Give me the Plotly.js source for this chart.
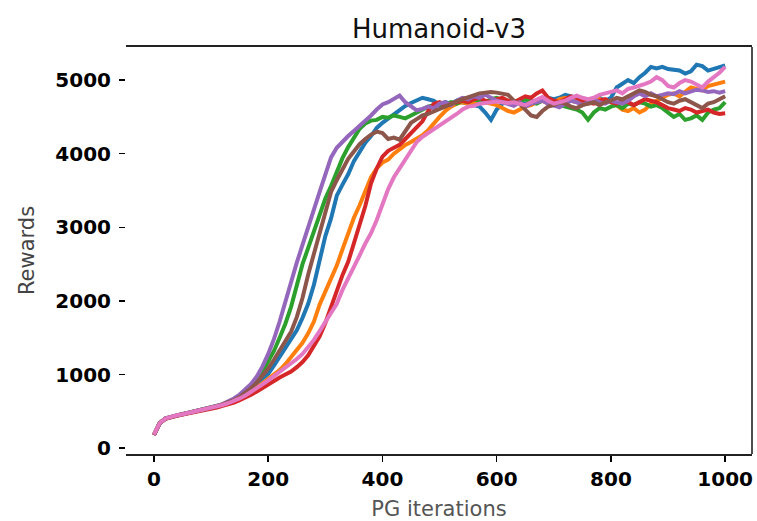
<!DOCTYPE html>
<html>
<head>
<meta charset="utf-8">
<script src="https://cdn.plot.ly/plotly-3.0.1.min.js"></script>
<style>html,body{margin:0;padding:0;background:#fff;}#chart{width:757px;height:521px;}</style>
</head>
<body>
<div id="chart"></div>
<script>
const iterations = [0,10,20,30,40,50,60,70,80,90,100,110,120,130,140,150,160,170,180,190,200,210,220,230,240,250,260,270,280,290,300,310,320,330,340,350,360,370,380,390,400,410,420,430,440,450,460,470,480,490,500,510,520,530,540,550,560,570,580,590,600,610,620,630,640,650,660,670,680,690,700,710,720,730,740,750,760,770,780,790,800,810,820,830,840,850,860,870,880,890,900,910,920,930,940,950,960,970,980,990,1000];

// blue
const run1 = [180,340,400,425,445,460,478,495,510,525,545,565,590,612,648,695,750,815,880,940,1010,1120,1240,1370,1490,1600,1770,1960,2220,2560,2880,3120,3430,3580,3720,3900,4030,4150,4240,4350,4420,4480,4540,4600,4650,4690,4730,4760,4740,4720,4660,4700,4680,4720,4700,4680,4660,4640,4560,4460,4600,4680,4700,4720,4700,4680,4720,4700,4740,4760,4740,4760,4800,4780,4760,4740,4720,4740,4760,4720,4760,4900,4950,5000,4960,5040,5100,5180,5160,5180,5150,5140,5130,5090,5120,5210,5190,5130,5150,5180,5200];

// orange
const run2 = [180,340,400,424,444,459,476,493,508,523,542,562,585,605,635,672,715,765,820,880,940,1000,1060,1140,1230,1320,1430,1560,1720,1950,2120,2300,2480,2700,2920,3130,3300,3500,3680,3800,3880,3920,4000,4060,4120,4160,4200,4250,4320,4420,4500,4580,4640,4680,4700,4680,4700,4720,4700,4680,4660,4620,4580,4560,4600,4640,4660,4700,4720,4680,4700,4740,4760,4720,4700,4720,4680,4700,4740,4720,4700,4660,4600,4580,4620,4560,4600,4680,4720,4760,4800,4820,4780,4840,4900,4880,4860,4920,4940,4960,4980];

// green
const run3 = [180,340,400,425,445,460,478,495,510,525,545,566,592,622,660,710,770,850,940,1040,1170,1320,1500,1690,1920,2200,2500,2720,2940,3160,3390,3560,3760,3940,4090,4220,4340,4410,4450,4460,4500,4490,4520,4500,4480,4520,4560,4600,4640,4660,4680,4660,4700,4680,4720,4700,4740,4720,4700,4740,4760,4720,4700,4680,4720,4740,4700,4680,4720,4760,4700,4660,4640,4620,4600,4560,4460,4560,4620,4600,4640,4660,4620,4680,4660,4700,4680,4640,4660,4620,4560,4500,4540,4460,4480,4520,4460,4560,4600,4620,4700];

// red
const run4 = [178,338,398,422,440,455,470,486,500,515,532,552,575,595,620,650,685,725,770,820,870,915,960,1000,1040,1100,1170,1260,1380,1520,1700,1930,2150,2350,2530,2780,3030,3290,3600,3800,3960,4040,4080,4120,4200,4280,4350,4440,4580,4680,4700,4660,4680,4700,4720,4700,4740,4760,4720,4700,4740,4760,4720,4700,4740,4780,4760,4820,4860,4760,4720,4700,4740,4780,4760,4720,4700,4680,4720,4740,4700,4680,4720,4700,4660,4700,4740,4720,4700,4660,4620,4600,4580,4620,4600,4560,4580,4600,4560,4540,4550];

// purple
const run5 = [180,335,405,428,447,463,480,497,513,530,550,572,598,630,675,728,792,872,972,1110,1280,1480,1720,2000,2270,2520,2760,2980,3240,3480,3720,3950,4080,4170,4240,4310,4380,4440,4520,4600,4670,4700,4740,4790,4700,4640,4590,4610,4640,4620,4680,4700,4660,4720,4760,4740,4780,4760,4800,4760,4720,4700,4680,4650,4700,4640,4680,4700,4720,4680,4660,4630,4680,4720,4700,4660,4700,4740,4700,4680,4720,4700,4680,4720,4780,4820,4780,4820,4780,4800,4820,4810,4850,4820,4840,4870,4860,4840,4850,4830,4850];

// brown
const run6 = [180,340,402,426,446,461,479,496,511,527,547,568,594,618,652,695,750,815,890,980,1080,1200,1320,1440,1580,1780,2040,2360,2640,2880,3170,3480,3640,3790,3930,4030,4130,4200,4260,4300,4280,4200,4220,4190,4300,4420,4470,4520,4540,4580,4610,4640,4680,4710,4740,4770,4800,4820,4830,4840,4830,4820,4800,4720,4680,4600,4520,4500,4580,4640,4660,4700,4680,4640,4620,4660,4680,4700,4660,4700,4720,4760,4740,4780,4820,4860,4840,4800,4780,4740,4700,4680,4720,4740,4700,4660,4620,4680,4700,4740,4780];

// pink
const run7 = [182,342,400,426,446,461,478,494,509,524,543,563,586,610,640,675,715,760,810,865,920,975,1030,1090,1150,1210,1280,1370,1470,1590,1720,1830,1960,2150,2300,2450,2620,2780,2920,3100,3300,3520,3680,3800,3940,4060,4160,4230,4280,4330,4380,4430,4480,4540,4600,4640,4650,4680,4690,4700,4710,4700,4690,4700,4680,4660,4700,4740,4770,4720,4680,4700,4720,4760,4790,4760,4740,4760,4800,4820,4840,4860,4820,4880,4900,4920,4950,4980,5040,5000,4920,4900,4960,5000,4980,4940,4900,4980,5040,5100,5180];

const seriesList = [run1, run2, run3, run4, run5, run6, run7];
const colors = ['#1f77b4','#ff7f0e','#2ca02c','#d62728','#9467bd','#8c564b','#e377c2'];

const xTicks = [0,200,400,600,800,1000];
const yTicks = [0,1000,2000,3000,4000,5000];

const traces = seriesList.map((ys, i) => ({
  x: iterations,
  y: ys,
  type: 'scatter',
  mode: 'lines',
  line: {color: colors[i], width: 4},
  showlegend: false,
  hoverinfo: 'skip'
}));

const font = 'DejaVu Sans, sans-serif';
const tickFont = {family: font, size: 20, color: '#000', weight: 'bold'};
const layout = {
  width: 757,
  height: 521,
  margin: {l: 126, r: 5, t: 47, b: 67},
  paper_bgcolor: '#fff',
  plot_bgcolor: '#fff',
  showlegend: false,
  title: {
    text: 'Humanoid-v3',
    font: {family: font, size: 26, color: '#111'},
    x: 0.5, xref: 'paper', xanchor: 'center',
    y: 1 - 29/521, yref: 'container', yanchor: 'middle'
  },
  xaxis: {
    range: [-49, 1047],
    tickvals: xTicks,
    ticktext: xTicks.map(String),
    ticks: 'outside', ticklen: 6, tickwidth: 1.5, tickcolor: '#000',
    showline: true, linecolor: '#222', linewidth: 1.6, mirror: true,
    showgrid: false, zeroline: false,
    tickfont: tickFont,
    title: {text: 'PG iterations', font: {family: font, size: 21, color: '#555'}, standoff: 18}
  },
  yaxis: {
    range: [-80, 5450],
    tickvals: yTicks,
    ticktext: yTicks.map(String),
    ticks: 'outside', ticklen: 6, tickwidth: 1.5, tickcolor: '#000',
    showline: false,
    showgrid: false, zeroline: false,
    tickfont: tickFont,
    ticklabelstandoff: 4,
    title: {text: 'Rewards', font: {family: font, size: 21, color: '#444'}, standoff: 14}
  },
  shapes: [
    {type: 'line', xref: 'paper', yref: 'paper', x0: 1, x1: 1, y0: 0, y1: 1,
     line: {color: '#222', width: 1.6}}
  ]
};

Plotly.newPlot('chart', traces, layout, {staticPlot: true, displayModeBar: false});
</script>
</body>
</html>
